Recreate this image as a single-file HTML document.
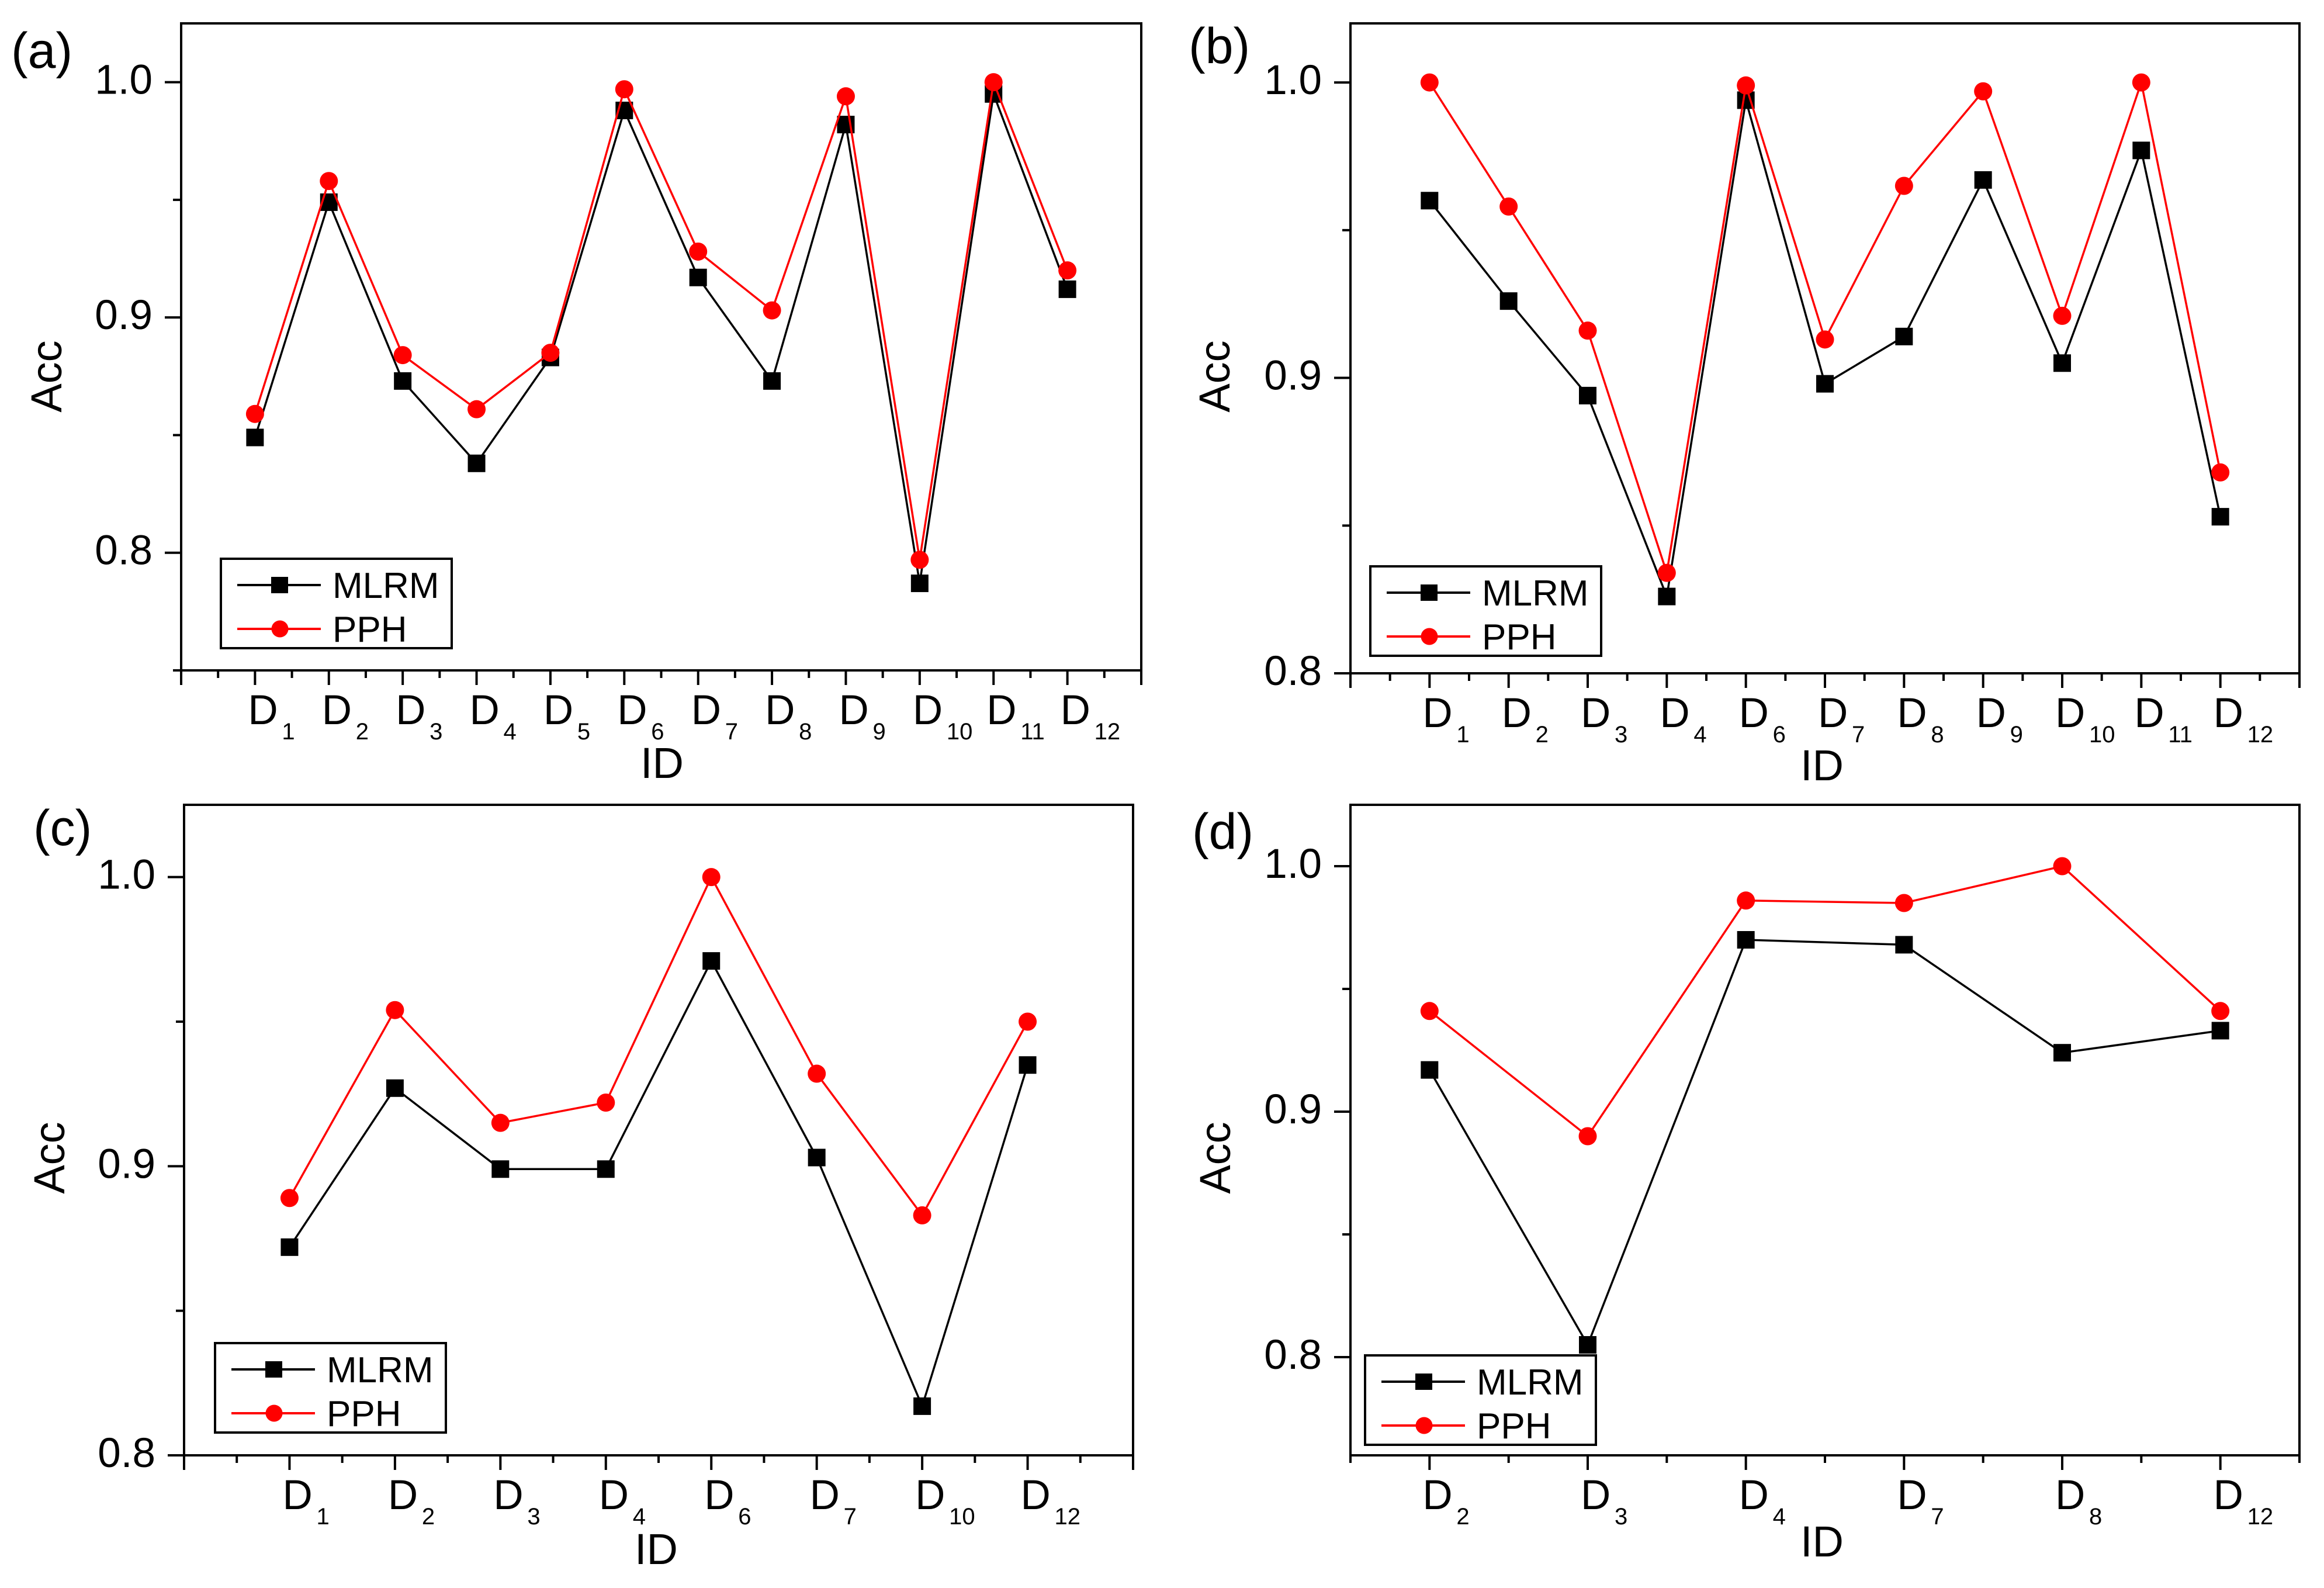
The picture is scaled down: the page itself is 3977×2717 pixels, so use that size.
<!DOCTYPE html>
<html><head><meta charset="utf-8"><style>
html,body{margin:0;padding:0;background:#fff;}
svg{display:block;}
text{font-family:"Liberation Sans",Arial,sans-serif;fill:#000;}
</style></head>
<body>
<svg id="fig" width="3977" height="2717" viewBox="0 0 3977 2717" xmlns="http://www.w3.org/2000/svg"></svg>
<script>
// ---- data ----
const catsA = ["1","2","3","4","5","6","7","8","9","10","11","12"];
const mlrmA = [0.849,0.949,0.873,0.838,0.883,0.988,0.917,0.873,0.982,0.787,0.995,0.912];
const pphA  = [0.859,0.958,0.884,0.861,0.885,0.997,0.928,0.903,0.994,0.797,1.000,0.920];

const catsB = ["1","2","3","4","6","7","8","9","10","11","12"];
const mlrmB = [0.960,0.926,0.894,0.826,0.994,0.898,0.914,0.967,0.905,0.977,0.853];
const pphB  = [1.000,0.958,0.916,0.834,0.999,0.913,0.965,0.997,0.921,1.000,0.868];

const catsC = ["1","2","3","4","6","7","10","12"];
const mlrmC = [0.872,0.927,0.899,0.899,0.971,0.903,0.817,0.935];
const pphC  = [0.889,0.954,0.915,0.922,1.000,0.932,0.883,0.950];

const catsD = ["2","3","4","7","8","12"];
const mlrmD = [0.917,0.805,0.970,0.968,0.924,0.933];
const pphD  = [0.941,0.890,0.986,0.985,1.000,0.941];

const yTicksAll = [0.8,0.9,1.0];
const yTickLabels = ["0.8","0.9","1.0"];

const NS="http://www.w3.org/2000/svg";
const svg=document.getElementById('fig');
function mk(tag,attrs,parent){const e=document.createElementNS(NS,tag);for(const k in attrs)e.setAttribute(k,attrs[k]);(parent||svg).appendChild(e);return e;}

function panel(p){
  const g=mk('g',{});
  
  
  const xS=v=>p.L+(v-p.x0)/(p.x1-p.x0)*(p.R-p.L);
  const yS=v=>p.B-(v-p.y0)/(p.y1-p.y0)*(p.B-p.T);
  // frame
  const fr=mk('rect',{x:p.L,y:p.T,width:p.R-p.L,height:p.B-p.T,fill:'none',stroke:'#000','stroke-width':4},g);
  
  
  // y ticks
  for(let v=Math.ceil(p.y0/0.05-1e-6)*0.05; v<=p.y1+1e-9; v+=0.05){
    const major=Math.abs(Math.round(v*10)-v*10)<1e-6;
    const y=yS(v);
    mk('line',{x1:p.L-(major?28:14),x2:p.L,y1:y,y2:y,stroke:'#000','stroke-width':4},g);
  }
  yTicksAll.forEach((v,i)=>{
    if(v<p.y0-1e-9||v>p.y1+1e-9)return;
    const t=mk('text',{x:p.L-49,y:yS(v)+20,'font-size':71,'text-anchor':'end'},g);
    t.textContent=yTickLabels[i];
    
    
  });
  // x ticks
  for(let v=p.x0; v<=p.x1+1e-9; v+=0.5){
    const major=Math.abs(v-Math.round(v))<1e-6;
    const x=xS(v);
    mk('line',{x1:x,x2:x,y1:p.B,y2:p.B+(major?25:13),stroke:'#000','stroke-width':4},g);
  }
  p.cats.forEach((c,i)=>{
    const x=xS(i+1);
    const t=mk('text',{x:x-12,y:p.B+92,'font-size':71},g);
    t.textContent='D';
    
    
    const s=mk('text',{x:x+46,y:p.B+118,'font-size':40},g);
    s.textContent=c;
    
    
  });
  // series
  function series(vals,color,shape,name){
    const sg=mk('g',{},g);
    
    
    const pts=vals.map((v,i)=>xS(i+1)+','+yS(v)).join(' ');
    mk('polyline',{points:pts,fill:'none',stroke:color,'stroke-width':3.5},sg);
    vals.forEach((v,i)=>{
      let m;
      if(shape==='sq') m=mk('rect',{x:xS(i+1)-15,y:yS(v)-15,width:30,height:30,fill:color},sg);
      else m=mk('circle',{cx:xS(i+1),cy:yS(v),r:15.5,fill:color},sg);
      
      
    });
  }
  series(p.mlrm,'#000','sq','mlrm-series');
  series(p.pph,'#ff0000','ci','pph-series');
  // legend
  const lg=mk('g',{},g);
  
  
  const lx=p.leg[0],ly=p.leg[1];
  mk('rect',{x:lx,y:ly,width:395,height:153,fill:'#fff',stroke:'#000','stroke-width':4},lg);
  const rows=[['MLRM','#000','sq',45],['PPH','#ff0000','ci',120]];
  rows.forEach(r=>{
    const yy=ly+r[3];
    mk('line',{x1:lx+28,x2:lx+171,y1:yy,y2:yy,stroke:r[1],'stroke-width':4},lg);
    if(r[2]==='sq') mk('rect',{x:lx+86,y:yy-14,width:29,height:28,fill:r[1]},lg);
    else mk('circle',{cx:lx+101,cy:yy,r:14.5,fill:r[1]},lg);
    const t=mk('text',{x:lx+191,y:yy+22,'font-size':62},lg);
    t.textContent=r[0];
    
    
  });
  // axis titles
  const ay=mk('text',{x:0,y:0,'font-size':74,'text-anchor':'middle',transform:`translate(${p.acc[0]},${p.acc[1]}) rotate(-90)`},g);
  ay.textContent='Acc';
  
  
  const ax=mk('text',{x:p.idt[0],y:p.idt[1],'font-size':74,'text-anchor':'middle'},g);
  ax.textContent='ID';
  
  
  const pl=mk('text',{x:p.lab[0],y:p.lab[1],'font-size':86},g);
  pl.textContent='('+p.id+')';
  
  
}

panel({id:'a',L:310,R:1953,T:40,B:1147,x0:0,x1:13,y0:0.75,y1:1.025,cats:catsA,mlrm:mlrmA,pph:pphA,
  leg:[378,956],acc:[105,644],idt:[1133,1331],lab:[19,116]});
panel({id:'b',L:2311,R:3935,T:40,B:1152,x0:0,x1:12,y0:0.8,y1:1.02,cats:catsB,mlrm:mlrmB,pph:pphB,
  leg:[2345,969],acc:[2104,644],idt:[3118,1335],lab:[2034,108]});
panel({id:'c',L:315,R:1939,T:1377,B:2490,x0:0,x1:9,y0:0.8,y1:1.025,cats:catsC,mlrm:mlrmC,pph:pphC,
  leg:[368,2298],acc:[110,1981],idt:[1123,2676],lab:[57,1446]});
panel({id:'d',L:2311,R:3935,T:1377,B:2490,x0:0.5,x1:6.5,y0:0.76,y1:1.025,cats:catsD,mlrm:mlrmD,pph:pphD,
  leg:[2336,2319],acc:[2105,1981],idt:[3118,2663],lab:[2040,1452]});
</script>
</body></html>
